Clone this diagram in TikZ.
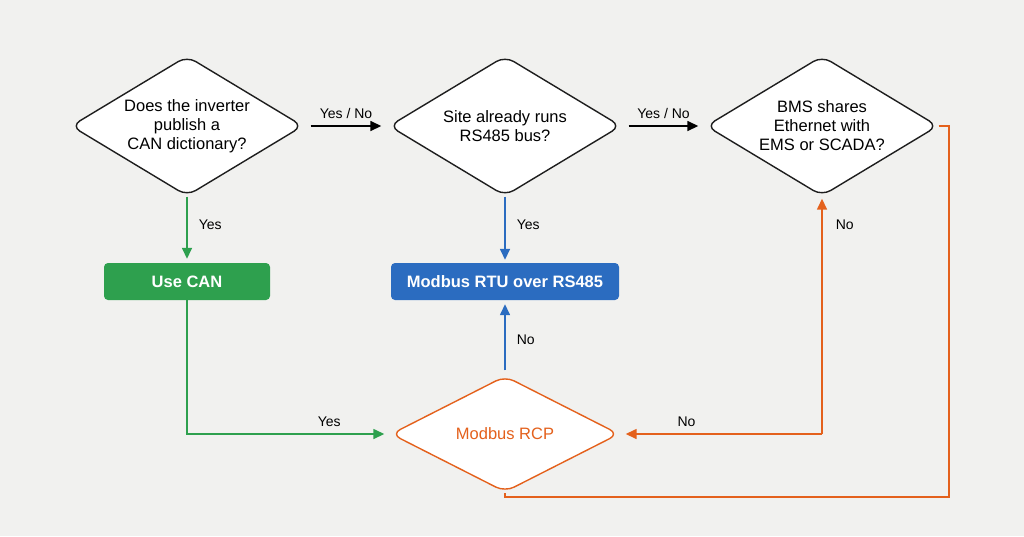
\documentclass[tikz,border=0pt]{standalone}
\usepackage{fontspec}
\setmainfont{Liberation Sans}
\usetikzlibrary{shapes}
\usetikzlibrary{arrows.meta}

\definecolor{bgcol}{HTML}{F1F1EF}
\definecolor{cangreen}{HTML}{2EA04E}
\definecolor{rtublue}{HTML}{2B6CC0}
\definecolor{rcporange}{HTML}{E4611C}
\definecolor{edgegray}{HTML}{1E1E1E}

\begin{document}
\begin{tikzpicture}[x=1pt,y=-1pt]
	\tikzstyle{decision}=[diamond, aspect=1.7, draw=edgegray, line width=1.4pt, fill=white, rounded corners=10pt, minimum width=232pt, minimum height=140pt, inner sep=0pt, align=center, font=\fontsize{16.5}{19}\selectfont]
	\tikzstyle{outcome}=[rectangle, rounded corners=4pt, minimum height=37pt, text=white, font=\fontsize{16.5}{19}\selectfont\bfseries]
	\tikzstyle{lbl}=[inner sep=1pt, font=\fontsize{14}{16}\selectfont]
	\tikzstyle{arr}=[line width=1.5pt, -{Triangle[length=11pt,width=10pt]}]

	% background
	\fill[bgcol] (0,0) rectangle (1024,536);
	\useasboundingbox (0,0) rectangle (1024,536);

	% questions
	\node[decision] (inverter) at (187,126) {Does the inverter\\publish a\\CAN dictionary?};
	\node[decision] (rsbus) at (505,126) {Site already runs\\RS485 bus?};
	\node[decision] (ethernet) at (822,126) {BMS shares\\Ethernet with\\EMS or SCADA?};

	% results
	\node[outcome, fill=cangreen, minimum width=166pt] (usecan) at (187,281.5) {Use CAN};
	\node[outcome, fill=rtublue, minimum width=228pt] (rtu) at (505,281.5) {Modbus RTU over RS485};
	\node[decision, draw=rcporange, text=rcporange, minimum width=228pt, minimum height=116pt] (rcp) at (505,434) {Modbus RCP};

	\coordinate (nofork) at (822,434);
	\coordinate (loopend) at (949,497);

	% top row
	\draw[arr, shorten <=7pt, shorten >=7pt] (inverter.east) -- node[lbl, above=6pt] {Yes / No} (rsbus.west);
	\draw[arr, shorten <=7pt, shorten >=7pt] (rsbus.east) -- node[lbl, above=6pt] {Yes / No} (ethernet.west);

	% green
	\draw[arr, cangreen, shorten >=4pt] (inverter.south) -- node[lbl, text=black, right=10pt, pos=0.43] {Yes} (usecan.north);
	\draw[arr, cangreen, shorten >=6pt] (usecan.south) |- node[lbl, text=black, above=6pt, pos=0.85] {Yes} (rcp.west);

	% blue
	\draw[arr, rtublue, shorten >=3pt] (rsbus.south) -- node[lbl, text=black, right=10pt, pos=0.43] {Yes} (rtu.north);
	\draw[arr, rtublue, shorten <=5pt, shorten >=4pt] (rcp.north) -- node[lbl, text=black, right=10pt, pos=0.48] {No} (rtu.south);

	% orange
	\draw[arr, rcporange, shorten >=2pt] (nofork) -- node[lbl, text=black, right=12pt, pos=0.88] {No} (ethernet.south);
	\draw[arr, rcporange, shorten >=6pt] (nofork) -- node[lbl, text=black, above=6pt, pos=0.67] {No} (rcp.east);
	\draw[line width=1.5pt, rcporange] (ethernet.east) -| (loopend) -| (rcp.south);
\end{tikzpicture}
\end{document}
